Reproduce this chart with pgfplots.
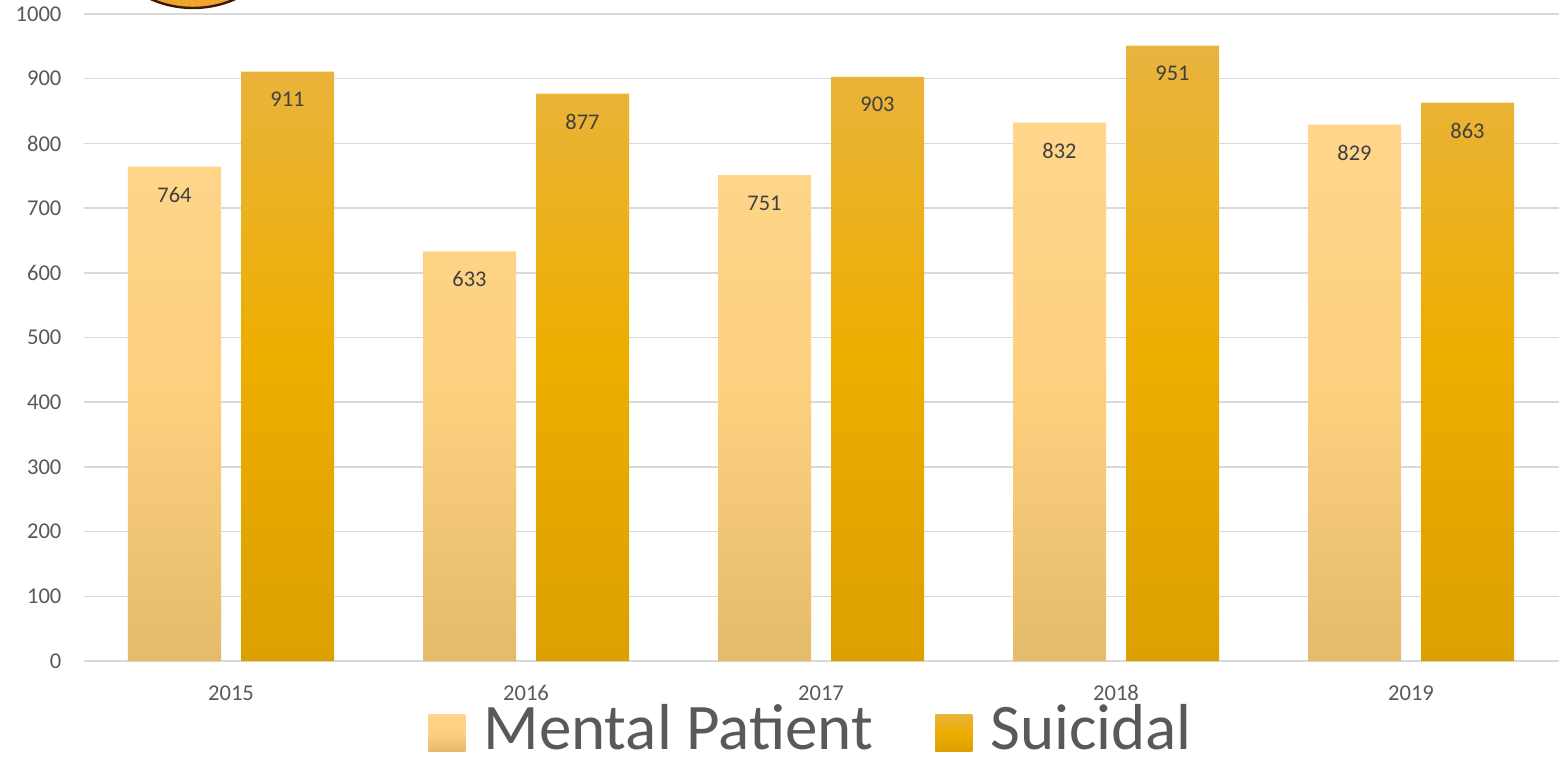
\documentclass[border=0pt]{standalone}
\usepackage{fontspec}
\setmainfont{Carlito}
\usepackage{pgfplots}
\pgfplotsset{compat=1.18}
\definecolor{gridc}{HTML}{D9D9D9}
\definecolor{tickc}{HTML}{595959}
\definecolor{labc}{HTML}{404040}
\definecolor{mtop}{HTML}{FFD68C}
\definecolor{mmid}{HTML}{FDD07E}
\definecolor{mbot}{HTML}{E4BB6A}
\definecolor{stop}{HTML}{E9B440}
\definecolor{smid}{HTML}{EDAE00}
\definecolor{sbot}{HTML}{DCA000}
\definecolor{circfill}{HTML}{EFA52C}
\definecolor{circdraw}{HTML}{3A1A05}
\begin{document}
\begin{tikzpicture}
\path[use as bounding box] (-41.75pt,-47.5pt) rectangle (739.25pt,330.5pt);
\begin{axis}[
  at={(0pt,0pt)}, anchor=south west,
  scale only axis, width=737.5pt, height=323.5pt,
  xmin=-0.5, xmax=4.5, ymin=0, ymax=1000,
  ytick distance=100,
  xtick={0,1,2,3,4}, xticklabels={2015,2016,2017,2018,2019},
  ymajorgrids, grid style={draw=gridc, line width=0.8pt},
  axis line style={draw=none}, major tick length=0pt,
  tick label style={font=\fontsize{11.3}{13}\selectfont, text=tickc},
  /pgf/number format/assume math mode=true, /pgf/number format/1000 sep={},
  yticklabel style={xshift=-7.5pt},
  xticklabel style={yshift=-8.7pt},
  ybar, bar width=46.5pt,
  nodes near coords,
  every node near coord/.append style={anchor=center, yshift=-14pt, font=\fontsize{11.2}{13}\selectfont, text=labc},
  legend columns=2, legend cell align=left,
  legend image code/.code={\path[#1,draw=none] (0pt,-11.5pt) rectangle (18.5pt,7pt);},
  legend style={at={(0.494,0)}, anchor=center, yshift=-33.5pt, draw=none, fill=none,
    font=\fontsize{32.5}{39}\selectfont, text=tickc,
    nodes={inner xsep=2pt, inner ysep=0pt},
    /tikz/every odd column/.append style={column sep=7pt},
    /tikz/every even column/.append style={column sep=29pt}},
]
\addplot[draw=none, bar shift=-28.25pt, top color=mtop, bottom color=mbot, middle color=mmid]
  coordinates {(0,764) (1,633) (2,751) (3,832) (4,829)};
\addlegendentry{Mental Patient}
\addplot[draw=none, bar shift=28.25pt, top color=stop, bottom color=sbot, middle color=smid]
  coordinates {(0,911) (1,877) (2,903) (3,951) (4,863)};
\addlegendentry{Suicidal}
\end{axis}
\fill[overlay, circfill, draw=circdraw, line width=1.2pt] (54.75pt,378.5pt) circle (52pt);
\end{tikzpicture}
\end{document}
